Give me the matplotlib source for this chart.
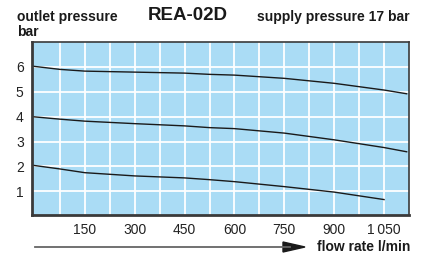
import matplotlib
matplotlib.use("Agg")
import matplotlib.pyplot as plt

plt.rcParams['font.family'] = ['Liberation Sans', 'DejaVu Sans']

# values
flow = [-8, 75, 150, 300, 450, 525, 600, 750, 900, 1050, 1118]
p_high = [6.03, 5.90, 5.83, 5.79, 5.75, 5.70, 5.67, 5.54, 5.34, 5.07, 4.92]
p_mid = [4.00, 3.90, 3.82, 3.72, 3.63, 3.56, 3.52, 3.34, 3.07, 2.76, 2.59]
flow_low = [-8, 75, 150, 300, 450, 525, 600, 750, 900, 1050]
p_low = [2.05, 1.90, 1.75, 1.62, 1.54, 1.47, 1.39, 1.19, 0.97, 0.67]

xticks = [150, 300, 450, 600, 750, 900, 1050]
xticklabels = ['150', '300', '450', '600', '750', '900', '1\u2009050']
yticks = [1, 2, 3, 4, 5, 6]

fig = plt.figure(figsize=(4.24, 2.54), dpi=100)
ax = fig.add_axes([32 / 424, 39 / 254, 377 / 424, 173 / 254])
ax.set_facecolor('#aadcf5')

for x, y in [(flow, p_high), (flow, p_mid), (flow_low, p_low)]:
    ax.plot(x, y, color='#1a1a1a', linewidth=1.0)

ax.set_xlim(-9, 1125)
ax.set_ylim(0.05, 7.0)

ax.set_xticks(range(75, 1125, 75), minor=True)
ax.set_yticks(range(1, 7))
ax.grid(True, which='both', color='white', linewidth=1.3)
ax.set_axisbelow(True)

ax.set_xticks(xticks)
ax.set_xticklabels(xticklabels)
ax.set_yticks(yticks)
ax.tick_params(which='both', length=0, labelsize=10, colors='#222222')
ax.tick_params(axis='x', pad=6)
ax.tick_params(axis='y', pad=6)

for side in ['left', 'bottom']:
    ax.spines[side].set_linewidth(2.0)
    ax.spines[side].set_color('#3a3a3a')
for side in ['top', 'right']:
    ax.spines[side].set_linewidth(1.2)
    ax.spines[side].set_color('#3a3a3a')

# header texts
fig.text(17 / 424, 1 - 17 / 254, 'outlet pressure', fontsize=10, fontweight='bold',
         va='center', ha='left', color='#1a1a1a')
fig.text(17 / 424, 1 - 32 / 254, 'bar', fontsize=10, fontweight='bold',
         va='center', ha='left', color='#1a1a1a')
fig.text(188 / 424, 1 - 16 / 254, 'REA-02D', fontsize=13.5, fontweight='bold',
         va='center', ha='center', color='#1a1a1a')
fig.text(410 / 424, 1 - 17 / 254, 'supply pressure 17 bar', fontsize=10,
         fontweight='bold', va='center', ha='right', color='#1a1a1a')

# flow direction arrow
y_arr = 1 - 247 / 254
fig.add_artist(plt.Line2D([35 / 424, 290 / 424], [y_arr, y_arr],
                          color='#666666', linewidth=1.3))
fig.add_artist(plt.Polygon([[283 / 424, y_arr + 5 / 254], [305 / 424, y_arr],
                            [283 / 424, y_arr - 5 / 254]], closed=True,
                           color='#1a1a1a'))
fig.text(410 / 424, y_arr, 'flow rate l/min', fontsize=10, fontweight='bold',
         va='center', ha='right', color='#1a1a1a')

fig.savefig('out.png', dpi=100)
